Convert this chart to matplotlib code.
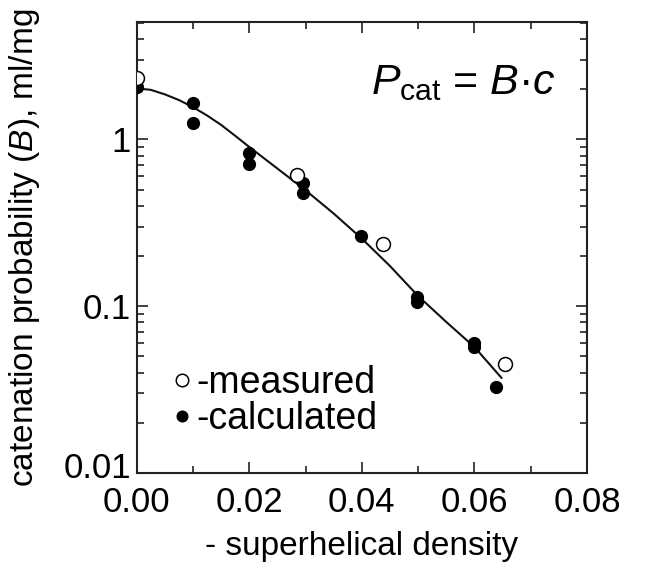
import matplotlib
matplotlib.use("Agg")
import matplotlib.pyplot as plt
import matplotlib.transforms as mtransforms
from matplotlib.ticker import LogLocator, NullFormatter, FixedLocator

plt.rcParams['font.family'] = ['Liberation Sans', 'DejaVu Sans']
plt.rcParams['mathtext.fontset'] = 'custom'
plt.rcParams['mathtext.rm'] = 'Liberation Sans'
plt.rcParams['mathtext.it'] = 'Liberation Sans:italic'

# measured (open circles)
meas_x = [0.0, 0.0285, 0.0438, 0.0654]
meas_y = [2.32, 0.61, 0.236, 0.045]

# calculated (filled circles)
calc_x = [0.0, 0.01, 0.01, 0.02, 0.02, 0.0296, 0.0296, 0.0398, 0.0498, 0.0498, 0.060, 0.060, 0.0638]
calc_y = [2.05, 1.66, 1.26, 0.83, 0.71, 0.545, 0.475, 0.263, 0.113, 0.106, 0.060, 0.057, 0.0326]

# fitted curve
fit_x = [0.0, 0.0025, 0.005, 0.0075, 0.010, 0.0125, 0.015, 0.0175, 0.020, 0.025, 0.030,
         0.035, 0.040, 0.045, 0.050, 0.055, 0.060, 0.0648]
fit_y = [2.02, 1.98, 1.86, 1.72, 1.56, 1.39, 1.22, 1.05, 0.90, 0.668, 0.495,
         0.359, 0.254, 0.174, 0.115, 0.0804, 0.0569, 0.0372]

fig = plt.figure(figsize=(6.49, 5.72), dpi=100)
ax = fig.add_axes([136.7/649, 1-473/572, (587-136.7)/649, (473-22)/572])

ax.plot(fit_x, fit_y, color='#111111', lw=1.5, zorder=2)
ax.plot(calc_x, calc_y, 'o', color='black', ms=8.5, zorder=3, label='-calculated')
ax.plot(meas_x, meas_y, 'o', mfc='white', mec='black', mew=1.1, ms=10, zorder=4, label='-measured')

ax.set_yscale('log')
ax.set_xlim(0, 0.08)
ax.set_ylim(0.01, 5.05)

ax.xaxis.set_major_locator(FixedLocator([0, 0.02, 0.04, 0.06, 0.08]))
ax.xaxis.set_minor_locator(FixedLocator([0.01, 0.03, 0.05, 0.07]))
ax.set_xticklabels(['0.00', '0.02', '0.04', '0.06', '0.08'])
ax.yaxis.set_major_locator(FixedLocator([0.01, 0.1, 1]))
ax.set_yticklabels(['0.01', '0.1', '1'])
ax.yaxis.set_minor_locator(LogLocator(base=10, subs=range(2, 10)))
ax.yaxis.set_minor_formatter(NullFormatter())

ax.tick_params(which='both', direction='in', top=True, right=True, width=1.2, color='#222222',
               labelsize=25)
ax.tick_params(axis='x', which='major', pad=9)
ax.tick_params(axis='y', which='major', pad=4)
ax.tick_params(which='major', length=8)
ax.tick_params(which='minor', length=5)
for s in ax.spines.values():
    s.set_linewidth(1.5)
    s.set_color('#222222')

# lift the bottom y label a little so it clears 0.00
ylabs = ax.get_yticklabels()
ylabs[0].set_transform(ylabs[0].get_transform() +
                       mtransforms.ScaledTranslation(0, 8/100, fig.dpi_scale_trans))

ax.set_xlabel('- superhelical density', fontsize=24, labelpad=9)
ax.set_ylabel('catenation probability ($B$), ml/mg', fontsize=24)
ax.yaxis.set_label_coords(-0.21, 0.5)

ax.text(0.52, 0.84, r'$P_{\rm cat}$ = $B$·$c$', transform=ax.transAxes, fontsize=31)

h, l = ax.get_legend_handles_labels()
ax.legend(h[::-1], l[::-1], loc='lower left', bbox_to_anchor=(0.005, 0.005), frameon=False,
          fontsize=27, handlelength=0.5, handletextpad=0.12, labelspacing=0.0, markerscale=0.9)

fig.savefig('out.png', dpi=100)
